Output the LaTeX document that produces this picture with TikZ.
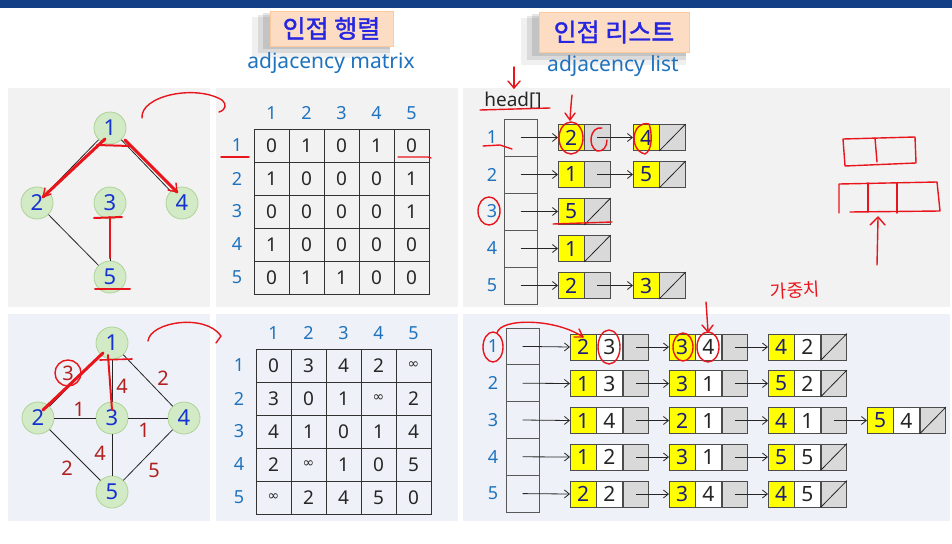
\documentclass[tikz,border=0pt]{standalone}
\usepackage{fontspec}
\setmainfont{Noto Sans}
\newfontfamily\kr[FakeBold=1.5]{Noto Sans CJK KR}
\newfontfamily\krpen{Noto Sans CJK KR}
\newfontfamily\dv{DejaVu Sans}
\usetikzlibrary{arrows.meta}
\definecolor{barblue}{HTML}{123F86}
\definecolor{peach}{HTML}{FDDCC4}
\definecolor{titleblue}{HTML}{2626E0}
\definecolor{subblue}{HTML}{1F72BE}
\definecolor{panelgray}{HTML}{F2F2F2}
\definecolor{panelblue}{HTML}{EEF2F8}
\definecolor{nodegreen}{HTML}{D3EAC6}
\definecolor{nodeedge}{HTML}{ADD397}
\definecolor{nodeblue}{HTML}{1432D2}
\definecolor{hdrblue}{HTML}{1F73BE}
\definecolor{keynavy}{HTML}{1C1C7C}
\definecolor{cellgray}{HTML}{D9D9D9}
\definecolor{keyyellow}{HTML}{FFFF00}
\definecolor{wred}{HTML}{B0201F}
\definecolor{penred}{HTML}{E8161C}
\newcommand\infy{{\dv\fontsize{14}{14}\selectfont ∞}}
\newcommand\fs[1]{\fontsize{#1}{#1}\selectfont}
\newcommand\BN[5]{%
  \node[keycell] (#1k) at (#2,#3) {#4};
  \node[wcell] (#1w) at (#1k.east) {#5};
  \node[ptrcell] (#1p) at (#1w.east) {};}
\newcommand\TN[4]{%
  \node[keycell] (#1k) at (#2,#3) {#4};
  \node[ptrcell] (#1p) at (#1k.east) {};}
\newcommand\NullX[1]{\draw[line width=0.8pt,black!85] (#1.south west) -- (#1.north east);}
\begin{document}
\begin{tikzpicture}[x=1pt,y=-1pt,
  gnode/.style={circle, fill=nodegreen, draw=nodeedge, line width=0.8pt, minimum size=32pt, inner sep=0, text=nodeblue, font=\fs{22}},
  hdr/.style={text=hdrblue, font=\fs{18}},
  mcell/.style={draw=black!80, line width=0.8pt, minimum width=35pt, minimum height=33pt, inner sep=0, font=\fs{19}, text=black!85},
  headcell/.style={draw=black!65, line width=0.8pt, minimum width=33pt, minimum height=37pt, inner sep=0},
  keycell/.style={draw=black!70, line width=0.8pt, fill=keyyellow, minimum width=25.5pt, minimum height=26pt, inner sep=0, anchor=west, text=keynavy, font=\fs{21}},
  ptrcell/.style={draw=black!70, line width=0.8pt, fill=cellgray, minimum width=25.5pt, minimum height=26pt, inner sep=0, anchor=west},
  wcell/.style={draw=black!70, line width=0.8pt, fill=white, minimum width=25.5pt, minimum height=26pt, inner sep=0, anchor=west, text=black!85, font=\fs{21}},
  link/.style={-{Straight Barb[length=5pt,width=8pt]}, line width=0.8pt, black!85},
  edge/.style={line width=0.8pt, black!85},
  pen/.style={draw=penred, line width=1.4pt, line cap=round, line join=round},
  wt/.style={text=wred, font=\fs{20}},
  rowlab/.style={text=hdrblue, font=\fs{18}}
]
\useasboundingbox (0,0) rectangle (952,543);
\fill[white] (0,0) rectangle (952,543);
\fill[barblue] (0,0) rectangle (952,8);

% titles
\fill[black, opacity=0.06] (252,17) rectangle (390,58);
\fill[black, opacity=0.09] (258,15) rectangle (390,53);
\fill[black, opacity=0.10] (263,13) rectangle (390,49);
\node[fill=peach, draw=peach!80!orange, minimum width=123pt, minimum height=35pt, inner sep=0] (t1) at (331.5,28.5) {};
\node[text=titleblue, font=\kr\fs{25}] (t1txt) at (t1.center) {인접 행렬};
\node[text=subblue, font=\fs{21}] (s1) at (331,63) {adjacency matrix};
\fill[black, opacity=0.06] (521,18) rectangle (686,65);
\fill[black, opacity=0.09] (527,16) rectangle (686,60);
\fill[black, opacity=0.10] (532,14) rectangle (686,56);
\node[fill=peach, draw=peach!80!orange, minimum width=150pt, minimum height=40pt, inner sep=0] (t2) at (614,32) {};
\node[text=titleblue, font=\kr\fs{25}] (t2txt) at (t2.center) {인접 리스트};
\node[text=subblue, font=\fs{21}] (s2) at (613,66) {adjacency list};

% panels
\fill[panelgray] (8,88) rectangle (210,307);
\fill[panelgray] (216,88) rectangle (458,307);
\fill[panelgray] (463,88) rectangle (950,307);
\fill[panelblue] (8,314) rectangle (210,521);
\fill[panelblue] (216,314) rectangle (458,521);
\fill[panelblue] (463,314) rectangle (950,521);

% ===== top graph =====
\node[gnode] (g1) at (110,128) {1};
\node[gnode] (g2) at (37,203) {2};
\node[gnode] (g3) at (110,203) {3};
\node[gnode] (g4) at (182,203) {4};
\node[gnode] (g5) at (110,277) {5};
\draw[edge] (g1) -- (g2);
\draw[edge] (g1) -- (g4);
\draw[edge] (g3) -- (g5);
\draw[edge] (g2) -- (g5);

% ===== top matrix =====
\foreach \c in {1,...,5} \node[hdr] (tc\c) at ({254+35*\c-17.5},113) {\c};
\foreach \r in {1,...,5} \node[hdr] (tr\r) at (237,{129+33*\r-16.5}) {\r};
\foreach \row [count=\r] in {{0,1,0,1,0},{1,0,0,0,1},{0,0,0,0,1},{1,0,0,0,0},{0,1,1,0,0}}
  \foreach \v [count=\c] in \row
    \node[mcell] (a\r\c) at ({254+35*\c-17.5},{129+33*\r-16.5}) {\v};

% ===== top list =====
\node[text=black!85, font=\fs{19}] (headlab) at (513,101) {head[]};
\foreach \r in {1,...,5} {
  \node[headcell] (h\r) at (520.5,{119+37*\r-18.5}) {};
  \node[rowlab] (hl\r) at (492,{119+37*\r-18.5}) {\r};
}
\TN{ta1}{558}{137.5}{2} \TN{ta2}{633}{137.5}{4} \NullX{ta2p}
\TN{tb1}{558}{174.5}{1} \TN{tb2}{633}{174.5}{5} \NullX{tb2p}
\TN{tc1}{558}{211.5}{5} \NullX{tc1p}
\TN{td1}{558}{248.5}{1} \NullX{td1p}
\TN{te1}{558}{285.5}{2} \TN{te2}{633}{285.5}{3} \NullX{te2p}
\draw[link] (h1.center) -- (ta1k.west);
\draw[link] (ta1p.center) -- (ta2k.west);
\draw[link] (h2.center) -- (tb1k.west);
\draw[link] (tb1p.center) -- (tb2k.west);
\draw[link] (h3.center) -- (tc1k.west);
\draw[link] (h4.center) -- (td1k.west);
\draw[link] (h5.center) -- (te1k.west);
\draw[link] (te1p.center) -- (te2k.west);

% ===== bottom graph =====
\node[gnode] (G1) at (112,343) {1};
\node[gnode] (G2) at (38,418) {2};
\node[gnode] (G3) at (112,418) {3};
\node[gnode] (G4) at (184,418) {4};
\node[gnode] (G5) at (112,492) {5};
\draw[edge] (G1) -- (G2);
\draw[edge] (G1) -- (G3);
\draw[edge] (G1) -- (G4);
\draw[edge] (G2) -- (G3);
\draw[edge] (G3) -- (G4);
\draw[edge] (G2) -- (G5);
\draw[edge] (G3) -- (G5);
\draw[edge] (G4) -- (G5);
\node[wt] (w12) at (68,373) {3};
\node[wt] (w13) at (122,386) {4};
\node[wt] (w14) at (163,378) {2};
\node[wt] (w23) at (79,409) {1};
\node[wt] (w34) at (144,430) {1};
\node[wt] (w35) at (100,453) {4};
\node[wt] (w25) at (67,468) {2};
\node[wt] (w45) at (154,470) {5};

% ===== bottom matrix =====
\foreach \c in {1,...,5} \node[hdr] (bc\c) at ({256+35*\c-17.5},333) {\c};
\foreach \r in {1,...,5} \node[hdr] (br\r) at (239,{349+33*\r-16.5}) {\r};
\foreach \row [count=\r] in {{0,3,4,2,\infy},{3,0,1,\infy,2},{4,1,0,1,4},{2,\infy,1,0,5},{\infy,2,4,5,0}}
  \foreach \v [count=\c] in \row
    \node[mcell] (b\r\c) at ({256+35*\c-17.5},{349+33*\r-16.5}) {\v};

% ===== bottom list =====
\foreach \r in {1,...,5} {
  \node[headcell, minimum height=36.8pt] (H\r) at (522.5,{328+36.8*\r-18.4}) {};
  \node[rowlab] (HL\r) at (493,{328+36.8*\r-18.4}) {\r};
}
\BN{ba1}{570}{347}{2}{3} \BN{ba2}{669}{347}{3}{4} \BN{ba3}{768}{347}{4}{2} \NullX{ba3p}
\BN{bb1}{570}{383.5}{1}{3} \BN{bb2}{669}{383.5}{3}{1} \BN{bb3}{768}{383.5}{5}{2} \NullX{bb3p}
\BN{bc1}{570}{420.5}{1}{4} \BN{bc2}{669}{420.5}{2}{1} \BN{bc3}{768}{420.5}{4}{1} \BN{bc4}{867}{420.5}{5}{4} \NullX{bc4p}
\BN{bd1}{570}{457}{1}{2} \BN{bd2}{669}{457}{3}{1} \BN{bd3}{768}{457}{5}{5} \NullX{bd3p}
\BN{be1}{570}{494}{2}{2} \BN{be2}{669}{494}{3}{4} \BN{be3}{768}{494}{4}{5} \NullX{be3p}
\foreach \x in {a,b,c,d,e} {
  \draw[link] (b\x1p.center) -- (b\x2k.west);
  \draw[link] (b\x2p.center) -- (b\x3k.west);
}
\draw[link] (bc3p.center) -- (bc4k.west);
\foreach \x/\r in {a/1,b/2,c/3,d/4,e/5} \draw[link] (H\r.center) -- (b\x1k.west);

% ===== red pen annotations =====
% top
\draw[pen] (514,67) -- (514,88);
\draw[pen] (508,81) -- (514,88) -- (520,81);
\draw[pen] (142,118) .. controls (140,96) and (195,84) .. (222,100) .. controls (227,104) and (226,110) .. (219,112);
\draw[pen, line width=3pt] (105,139) -- (43,197);
\draw[pen] (43,197) -- (45,188); \draw[pen] (43,197) -- (51,194);
\draw[pen, line width=3pt] (125,140) -- (177,192);
\draw[pen] (177,192) -- (176,183); \draw[pen] (177,192) -- (168,190);
\draw[pen, line width=2pt] (97,145) -- (130,146);
\draw[pen, line width=2pt] (110,217) -- (110,258);
\draw[pen, line width=2pt] (94,218) -- (122,217);
\draw[pen, line width=2pt] (95,289) -- (130,289);
\draw[pen] (221,157) -- (249,157);
\draw[pen] (398,157) -- (428,157) -- (431,158);
\draw[pen] (480,110) -- (550,108);
\draw[pen] (572,95) .. controls (571,105) .. (570,120);
\draw[pen] (565,113) -- (570,120) -- (575,113);
\draw[pen] (571,138) ellipse [x radius=12, y radius=16];
\draw[pen] (602,128) .. controls (590,126) and (587,146) .. (597,151) .. controls (603,152) and (607,147) .. (607,140);
\draw[pen] (649,124) .. controls (632,120) and (628,150) .. (645,154) .. controls (653,150) and (652,132) .. (649,124);
\draw[pen] (483,146) -- (500,145) -- (512,149);
\draw[pen] (489,211) ellipse [x radius=11, y radius=14];
\draw[pen] (553,224) -- (612,222);
\draw[pen] (843,139) -- (915,137) -- (916,163) -- (845,166) -- (843,139);
\draw[pen] (875,138) -- (877,162);
\draw[pen] (839,213) -- (839,184) -- (937,182) -- (940,211) -- (850,212);
\draw[pen] (868,183) -- (868,212);
\draw[pen] (897,183) -- (897,213);
\draw[pen] (877,265) -- (878,218);
\draw[pen] (870,225) -- (878,217) -- (885,225);
\node[text=penred, font=\krpen\fs{18}, rotate=3] (weight) at (795,290) {가중치};
% bottom
\draw[pen] (148,341) .. controls (150,322) and (205,313) .. (221,336) -- (216,343);
\draw[pen, line width=3pt] (103,353) -- (43,410);
\draw[pen, line width=2pt] (108,355) -- (112,410);
\draw[pen, line width=1.6pt] (100,360) -- (132,359);
\draw[pen] (68,373) circle [radius=13];
\draw[pen] (493,347) ellipse [x radius=10, y radius=15];
\draw[pen] (497,333) .. controls (500,318) and (555,318) .. (583,337);
\draw[pen] (574,337) -- (583,337) -- (579,329);
\draw[pen] (609,347) ellipse [x radius=11, y radius=17];
\draw[pen] (683,347) ellipse [x radius=10, y radius=14];
\draw[pen] (708,347) ellipse [x radius=11, y radius=15];
\draw[pen] (706,302) -- (708,331);
\draw[pen] (702,325) -- (708,332) -- (713,325);
\end{tikzpicture}
\end{document}
